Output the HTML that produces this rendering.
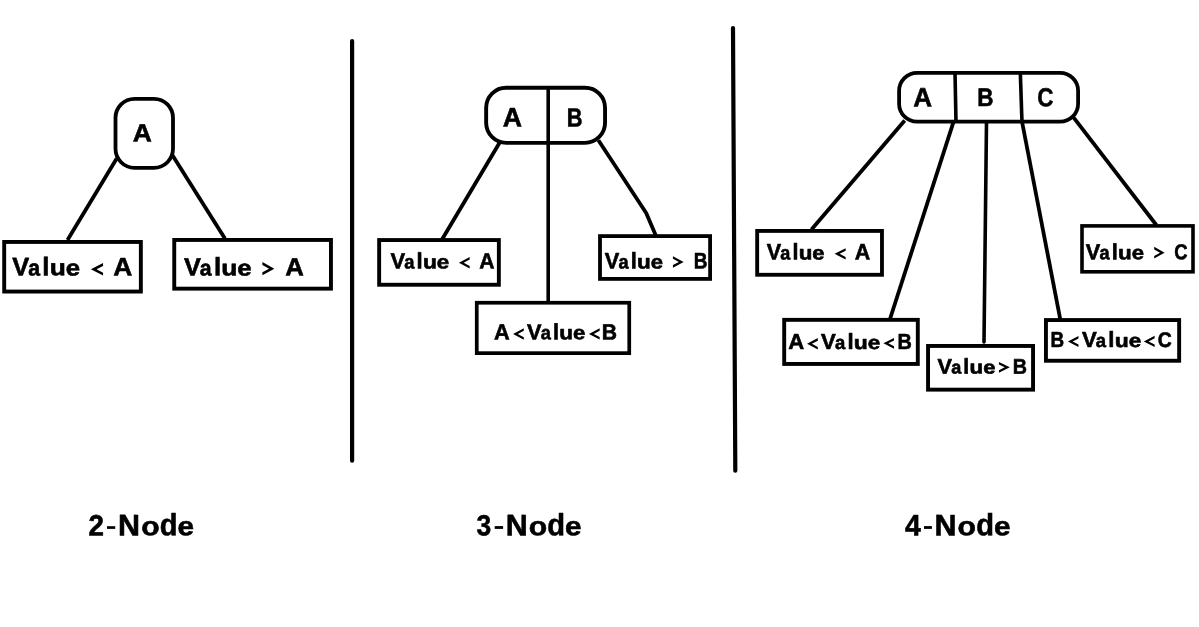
<!DOCTYPE html>
<html><head><meta charset="utf-8"><title>2-3-4 tree nodes</title><style>
html,body{margin:0;padding:0;background:#fff;}
body{width:1199px;height:627px;overflow:hidden;}
svg{display:block;will-change:transform;}
</style></head><body>
<svg width="1199" height="627" viewBox="0 0 1199 627">
<rect x="0" y="0" width="1199" height="627" fill="#fff"/>
<g fill="none" stroke="#000">
<line x1="352.1" y1="41.1" x2="352.1" y2="460.7" stroke-width="4.2" stroke-linecap="round"/>
<line x1="733" y1="28" x2="735.3" y2="470.7" stroke-width="4.2" stroke-linecap="round"/>
<rect x="115.50" y="98.80" width="57.50" height="69.00" rx="19" stroke-width="3.8"/>
<line x1="116.7" y1="158.4" x2="67.5" y2="240" stroke-width="3.8" stroke-linecap="butt"/>
<line x1="172.3" y1="154.9" x2="224.9" y2="238.5" stroke-width="3.8" stroke-linecap="butt"/>
<rect x="4.20" y="241.95" width="136.65" height="49.60" rx="0" stroke-width="3.9"/>
<rect x="174.25" y="239.95" width="156.70" height="48.70" rx="0" stroke-width="3.9"/>
<rect x="486.15" y="87.75" width="118.90" height="55.10" rx="20" stroke-width="3.9"/>
<line x1="548.2" y1="87" x2="548.2" y2="302" stroke-width="3.6" stroke-linecap="butt"/>
<line x1="500" y1="142" x2="442" y2="239.5" stroke-width="3.8" stroke-linecap="butt"/>
<polyline points="598.4,140.3 646.2,213 655.8,235.5" stroke-width="3.8" stroke-linejoin="round"/>
<rect x="379.15" y="240.05" width="119.70" height="44.70" rx="0" stroke-width="3.9"/>
<rect x="600.00" y="236.10" width="110.10" height="42.80" rx="0" stroke-width="3.8"/>
<rect x="476.75" y="302.75" width="152.50" height="50.40" rx="0" stroke-width="3.7"/>
<rect x="899.10" y="72.90" width="179.00" height="48.80" rx="18" stroke-width="3.8"/>
<line x1="955" y1="72" x2="956" y2="122.5" stroke-width="3.6" stroke-linecap="butt"/>
<line x1="1020.3" y1="72" x2="1022" y2="122.5" stroke-width="3.6" stroke-linecap="butt"/>
<line x1="904.7" y1="120.4" x2="811.5" y2="229.5" stroke-width="3.8" stroke-linecap="butt"/>
<line x1="953.6" y1="121.7" x2="890" y2="319" stroke-width="3.8" stroke-linecap="butt"/>
<line x1="986.5" y1="122" x2="984" y2="342" stroke-width="3.6" stroke-linecap="round"/>
<line x1="1021.7" y1="120" x2="1060.2" y2="319" stroke-width="3.8" stroke-linecap="butt"/>
<line x1="1073.5" y1="117.4" x2="1156.3" y2="225" stroke-width="3.8" stroke-linecap="butt"/>
<rect x="757.17" y="230.93" width="124.80" height="43.85" rx="0" stroke-width="3.85"/>
<rect x="1082.00" y="225.90" width="111.00" height="45.90" rx="0" stroke-width="3.6"/>
<rect x="784.20" y="319.85" width="133.60" height="44.10" rx="0" stroke-width="3.9"/>
<rect x="928.05" y="345.95" width="105.00" height="43.70" rx="0" stroke-width="3.9"/>
<rect x="1045.95" y="320.05" width="133.20" height="40.70" rx="0" stroke-width="3.9"/>
</g>
<g fill="none" stroke="#000" stroke-linejoin="miter" stroke-linecap="butt">
<polygon points="103.05,263.05 90.89,269.30 103.05,275.55 103.05,272.63 96.58,269.30 103.05,265.97" fill="#000" stroke="none"/>
<polygon points="262.41,262.01 274.35,268.68 262.41,275.35 262.41,272.37 269.02,268.68 262.41,264.99" fill="#000" stroke="none"/>
<polygon points="469.65,256.95 458.93,262.70 469.65,268.45 469.65,265.90 463.69,262.70 469.65,259.50" fill="#000" stroke="none"/>
<polygon points="672.93,256.15 683.65,261.90 672.93,267.65 672.93,265.10 678.89,261.90 672.93,258.70" fill="#000" stroke="none"/>
<polygon points="523.80,328.14 513.09,333.97 523.80,339.80 523.80,337.24 517.80,333.97 523.80,330.70" fill="#000" stroke="none"/>
<polygon points="599.65,328.30 588.93,333.88 599.65,339.45 599.65,336.91 593.81,333.88 599.65,330.84" fill="#000" stroke="none"/>
<polygon points="845.65,248.25 834.62,253.85 845.65,259.45 845.65,256.93 839.59,253.85 845.65,250.77" fill="#000" stroke="none"/>
<polygon points="1154.21,246.82 1164.60,252.66 1154.21,258.49 1154.21,255.91 1160.01,252.66 1154.21,249.40" fill="#000" stroke="none"/>
<polygon points="817.80,338.09 807.09,343.77 817.80,349.45 817.80,346.90 811.89,343.77 817.80,340.64" fill="#000" stroke="none"/>
<polygon points="894.00,337.93 883.45,343.37 894.00,348.80 894.00,346.27 888.36,343.37 894.00,340.46" fill="#000" stroke="none"/>
<polygon points="998.93,361.93 1009.80,367.29 998.93,372.65 998.93,370.14 1004.71,367.29 998.93,364.44" fill="#000" stroke="none"/>
<polygon points="1078.48,335.93 1067.93,341.52 1078.48,347.12 1078.48,344.57 1072.73,341.52 1078.48,338.48" fill="#000" stroke="none"/>
<polygon points="1154.65,335.78 1143.78,341.45 1154.65,347.12 1154.65,344.58 1148.65,341.45 1154.65,338.32" fill="#000" stroke="none"/>
<rect x="107" y="526.2" width="8.20" height="2.70" fill="#000" stroke="none"/>
<rect x="494.7" y="526.1" width="8.40" height="2.80" fill="#000" stroke="none"/>
<rect x="924" y="526.1" width="7.90" height="2.80" fill="#000" stroke="none"/>
</g>
<g fill="#000" stroke="#000" stroke-width="0.6" stroke-linejoin="round" font-family="'Liberation Sans', sans-serif" font-weight="bold">
<text transform="translate(132.761 141.500) rotate(0.05) scale(1.0536 1)" font-size="25.15">A</text>
<text transform="translate(502.705 126.600) rotate(0.05) scale(0.9990 1)" font-size="26.74">A</text>
<text transform="translate(566.861 126.600) rotate(0.05) scale(0.8334 1)" font-size="26.16">B</text>
<text transform="translate(913.321 106.400) rotate(0.05) scale(0.9766 1)" font-size="26.74">A</text>
<text transform="translate(977.218 106.000) rotate(0.05) scale(0.8880 1)" font-size="25.29">B</text>
<text transform="translate(1037.360 106.140) rotate(0.05) scale(0.8616 1)" font-size="25.99">C</text>
<text transform="translate(12.347 275.600) rotate(0.05) scale(0.9907 1)" font-size="25.58">V</text>
<text transform="translate(28.231 275.375) rotate(0.05) scale(0.9434 1)" font-size="22.49">a</text>
<text transform="translate(42.370 275.600) rotate(0.05) scale(0.9953 1)" font-size="25.94">l</text>
<text transform="translate(49.730 275.374) rotate(0.05) scale(1.1673 1)" font-size="22.57">u</text>
<text transform="translate(65.642 275.375) rotate(0.05) scale(1.1466 1)" font-size="22.49">e</text>
<text transform="translate(113.313 275.500) rotate(0.05) scale(1.0386 1)" font-size="25.44">A</text>
<text transform="translate(183.897 275.600) rotate(0.05) scale(1.0086 1)" font-size="25.15">V</text>
<text transform="translate(199.793 275.379) rotate(0.05) scale(0.9608 1)" font-size="22.10">a</text>
<text transform="translate(213.942 275.600) rotate(0.05) scale(1.0134 1)" font-size="25.50">l</text>
<text transform="translate(221.307 275.378) rotate(0.05) scale(1.1887 1)" font-size="22.17">u</text>
<text transform="translate(237.231 275.379) rotate(0.05) scale(1.1677 1)" font-size="22.10">e</text>
<text transform="translate(285.329 275.600) rotate(0.05) scale(1.0269 1)" font-size="25.15">A</text>
<text transform="translate(390.424 268.600) rotate(0.05) scale(0.9875 1)" font-size="22.24">V</text>
<text transform="translate(404.265 268.405) rotate(0.05) scale(0.9400 1)" font-size="19.51">a</text>
<text transform="translate(416.618 268.600) rotate(0.05) scale(0.9723 1)" font-size="22.56">l</text>
<text transform="translate(423.000 268.404) rotate(0.05) scale(1.1642 1)" font-size="19.57">u</text>
<text transform="translate(436.859 268.405) rotate(0.05) scale(1.1433 1)" font-size="19.51">e</text>
<text transform="translate(479.249 268.600) rotate(0.05) scale(0.9530 1)" font-size="22.24">A</text>
<text transform="translate(604.826 268.600) rotate(0.05) scale(0.9706 1)" font-size="22.38">V</text>
<text transform="translate(618.526 268.404) rotate(0.05) scale(0.9237 1)" font-size="19.64">a</text>
<text transform="translate(630.754 268.600) rotate(0.05) scale(0.9541 1)" font-size="22.71">l</text>
<text transform="translate(637.069 268.403) rotate(0.05) scale(1.1440 1)" font-size="19.70">u</text>
<text transform="translate(650.785 268.404) rotate(0.05) scale(1.1235 1)" font-size="19.64">e</text>
<text transform="translate(693.845 268.600) rotate(0.05) scale(0.8496 1)" font-size="22.38">B</text>
<text transform="translate(494.033 339.400) rotate(0.05) scale(0.9929 1)" font-size="21.95">A</text>
<text transform="translate(527.026 339.400) rotate(0.05) scale(0.9916 1)" font-size="21.95">V</text>
<text transform="translate(540.749 339.208) rotate(0.05) scale(0.9440 1)" font-size="19.25">a</text>
<text transform="translate(552.998 339.400) rotate(0.05) scale(0.9750 1)" font-size="22.27">l</text>
<text transform="translate(559.324 339.207) rotate(0.05) scale(1.1693 1)" font-size="19.31">u</text>
<text transform="translate(573.064 339.208) rotate(0.05) scale(1.1482 1)" font-size="19.25">e</text>
<text transform="translate(601.704 339.400) rotate(0.05) scale(0.9635 1)" font-size="21.95">B</text>
<text transform="translate(766.627 259.600) rotate(0.05) scale(0.9636 1)" font-size="22.38">V</text>
<text transform="translate(780.232 259.404) rotate(0.05) scale(0.9169 1)" font-size="19.64">a</text>
<text transform="translate(792.379 259.600) rotate(0.05) scale(0.9462 1)" font-size="22.71">l</text>
<text transform="translate(798.648 259.403) rotate(0.05) scale(1.1357 1)" font-size="19.70">u</text>
<text transform="translate(812.269 259.404) rotate(0.05) scale(1.1153 1)" font-size="19.64">e</text>
<text transform="translate(854.841 259.600) rotate(0.05) scale(0.9602 1)" font-size="22.38">A</text>
<text transform="translate(1085.726 259.400) rotate(0.05) scale(0.9833 1)" font-size="22.09">V</text>
<text transform="translate(1099.426 259.206) rotate(0.05) scale(0.9360 1)" font-size="19.38">a</text>
<text transform="translate(1111.654 259.400) rotate(0.05) scale(0.9666 1)" font-size="22.41">l</text>
<text transform="translate(1117.969 259.206) rotate(0.05) scale(1.1593 1)" font-size="19.44">u</text>
<text transform="translate(1131.685 259.206) rotate(0.05) scale(1.1385 1)" font-size="19.38">e</text>
<text transform="translate(1174.327 259.185) rotate(0.05) scale(0.8573 1)" font-size="21.47">C</text>
<text transform="translate(788.126 349.100) rotate(0.05) scale(1.0200 1)" font-size="21.66">A</text>
<text transform="translate(821.023 349.100) rotate(0.05) scale(1.0212 1)" font-size="21.66">V</text>
<text transform="translate(834.959 348.910) rotate(0.05) scale(0.9727 1)" font-size="18.99">a</text>
<text transform="translate(847.394 349.100) rotate(0.05) scale(1.0065 1)" font-size="21.97">l</text>
<text transform="translate(853.821 348.909) rotate(0.05) scale(1.2046 1)" font-size="19.05">u</text>
<text transform="translate(867.775 348.910) rotate(0.05) scale(1.1830 1)" font-size="18.99">e</text>
<text transform="translate(897.491 349.100) rotate(0.05) scale(0.9159 1)" font-size="21.66">B</text>
<text transform="translate(937.527 373.700) rotate(0.05) scale(1.0182 1)" font-size="21.22">V</text>
<text transform="translate(951.156 373.514) rotate(0.05) scale(0.9698 1)" font-size="18.60">a</text>
<text transform="translate(963.322 373.700) rotate(0.05) scale(1.0000 1)" font-size="21.53">l</text>
<text transform="translate(969.603 373.513) rotate(0.05) scale(1.2012 1)" font-size="18.66">u</text>
<text transform="translate(983.248 373.514) rotate(0.05) scale(1.1796 1)" font-size="18.60">e</text>
<text transform="translate(1012.702 373.700) rotate(0.05) scale(0.9270 1)" font-size="21.22">B</text>
<text transform="translate(1050.556 347.100) rotate(0.05) scale(0.8705 1)" font-size="21.66">B</text>
<text transform="translate(1081.923 347.100) rotate(0.05) scale(1.0212 1)" font-size="21.66">V</text>
<text transform="translate(1095.859 346.910) rotate(0.05) scale(0.9727 1)" font-size="18.99">a</text>
<text transform="translate(1108.294 347.100) rotate(0.05) scale(1.0065 1)" font-size="21.97">l</text>
<text transform="translate(1114.721 346.909) rotate(0.05) scale(1.2046 1)" font-size="19.05">u</text>
<text transform="translate(1128.675 346.910) rotate(0.05) scale(1.1830 1)" font-size="18.99">e</text>
<text transform="translate(1157.788 346.890) rotate(0.05) scale(0.9183 1)" font-size="21.05">C</text>
<text transform="translate(88.455 535.600) rotate(0.05) scale(0.9420 1)" font-size="29.51">2</text>
<text transform="translate(118.088 535.600) rotate(0.05) scale(1.0180 1)" font-size="29.94">N</text>
<text transform="translate(141.167 535.334) rotate(0.05) scale(1.1312 1)" font-size="26.60">o</text>
<text transform="translate(159.743 535.292) rotate(0.05) scale(0.9449 1)" font-size="30.81">d</text>
<text transform="translate(177.491 535.334) rotate(0.05) scale(1.1168 1)" font-size="26.60">e</text>
<text transform="translate(476.566 535.309) rotate(0.05) scale(0.9077 1)" font-size="29.10">3</text>
<text transform="translate(505.688 535.600) rotate(0.05) scale(1.0180 1)" font-size="29.94">N</text>
<text transform="translate(528.767 535.334) rotate(0.05) scale(1.1312 1)" font-size="26.60">o</text>
<text transform="translate(547.343 535.292) rotate(0.05) scale(0.9449 1)" font-size="30.81">d</text>
<text transform="translate(565.091 535.334) rotate(0.05) scale(1.1168 1)" font-size="26.60">e</text>
<text transform="translate(904.945 535.600) rotate(0.05) scale(0.9600 1)" font-size="29.65">4</text>
<text transform="translate(934.486 535.600) rotate(0.05) scale(1.0194 1)" font-size="29.94">N</text>
<text transform="translate(957.595 535.334) rotate(0.05) scale(1.1328 1)" font-size="26.60">o</text>
<text transform="translate(976.197 535.292) rotate(0.05) scale(0.9463 1)" font-size="30.81">d</text>
<text transform="translate(993.969 535.334) rotate(0.05) scale(1.1183 1)" font-size="26.60">e</text>
</g>
</svg>
</body></html>
